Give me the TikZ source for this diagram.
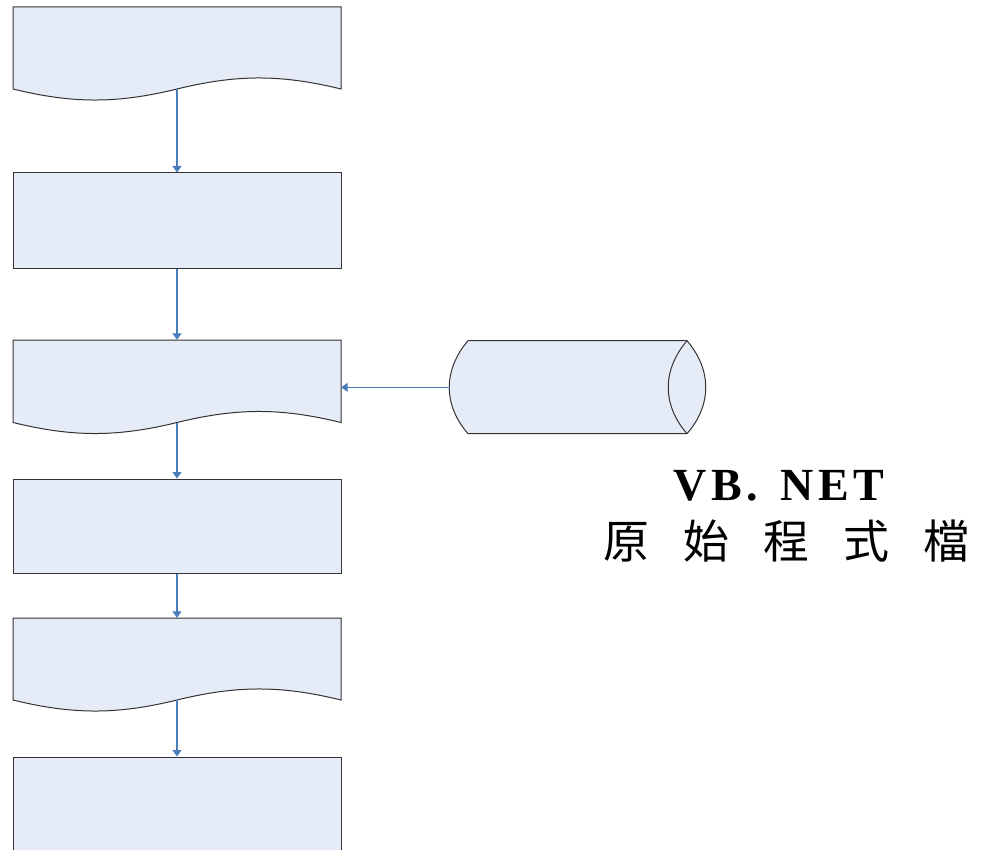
\documentclass[tikz,border=0pt]{standalone}
\usepackage{fontspec}
\setmainfont{Liberation Serif}
\newfontfamily\latinlbl[LetterSpace=10]{Liberation Serif}
\newfontfamily\cjk{Noto Sans CJK TC}
\usetikzlibrary{arrows.meta}
\definecolor{boxfill}{HTML}{E6ECF7}
\definecolor{boxline}{HTML}{333333}
\definecolor{arrowc}{HTML}{4A7EBB}
\tikzset{
  shapebox/.style={draw=boxline, fill=boxfill, line width=1pt},
  rectbox/.style={shapebox, rectangle, inner sep=0pt, minimum width=328pt},
  anchorbox/.style={draw=none, rectangle, inner sep=0pt, minimum width=328pt},
  flow/.style={draw=arrowc, line width=1.2pt, -{Triangle[width=9pt,length=6.5pt]}},
}
\newcommand{\docshape}[2]{% top, bottom
  \path[shapebox] (13,#1) -- (341,#1) -- (341,#2)
    .. controls (281,#2-14.7) and (237,#2-14.7) .. (177,#2)
    .. controls (117,#2+14.7) and (73,#2+14.7) .. (13,#2) -- cycle;}
\begin{document}
\begin{tikzpicture}[x=1pt,y=-1pt]
\clip (0,0) rectangle (984,850);
\fill[white] (0,0) rectangle (984,850);
% document 1
\docshape{7}{89}
\node[anchorbox, minimum height=82pt] (d1) at (177,48) {};
\coordinate (d1w) at (177,89);
% rectangle 2
\node[rectbox, minimum height=95pt] (r2) at (177,220.5) {};
% document 3
\docshape{340}{422.5}
\node[anchorbox, minimum height=82.5pt] (d3) at (177,381.25) {};
\coordinate (d3w) at (177,422.5);
% rectangle 4
\node[rectbox, minimum height=94.5pt] (r4) at (177,526.25) {};
% document 5
\docshape{618}{700}
\node[anchorbox, minimum height=82pt] (d5) at (177,659) {};
\coordinate (d5w) at (177,700);
% rectangle 6
\node[rectbox, minimum height=140pt] (r6) at (177,827) {};
% cylinder (horizontal)
\path[shapebox] (468,340.7) -- (687,340.7)
  .. controls (712,370) and (712,405) .. (687,433.7)
  -- (468,433.7)
  .. controls (443,405) and (443,370) .. (468,340.7) -- cycle;
\draw[boxline, line width=1pt] (687,340.7) .. controls (662,370) and (662,405) .. (687,433.7);
\coordinate (cyl) at (449.5,387.3);
% connectors
\draw[flow] (d1w) -- (r2.north);
\draw[flow] (r2.south) -- (d3.north);
\draw[flow] (d3w) -- (r4.north);
\draw[flow] (r4.south) -- (d5.north);
\draw[flow] (d5w) -- (r6.north);
\draw[flow] (cyl) -- (d3.east |- cyl);
% labels
\node[font=\latinlbl\bfseries\fontsize{46}{50}\selectfont, anchor=base] (t1) at (779,500) {VB.\hspace{6pt} NET};
\node[font=\cjk\fontsize{46}{50}\selectfont, anchor=center] (t2) at (786.5,541.5)
  {原\hspace{34pt}始\hspace{34pt}程\hspace{34pt}式\hspace{34pt}檔};
\end{tikzpicture}
\end{document}
